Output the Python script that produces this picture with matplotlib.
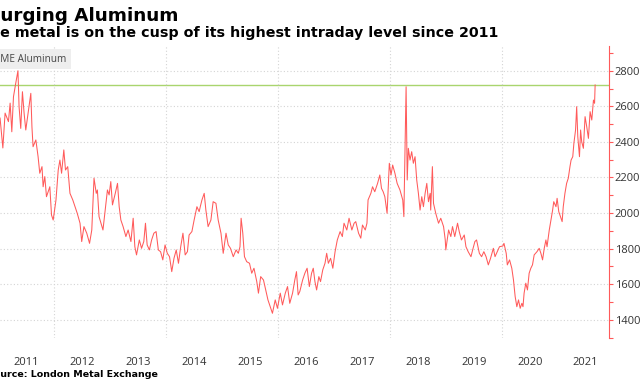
import matplotlib
matplotlib.use("Agg")
import matplotlib.pyplot as plt

# LME aluminium price (decimal year, USD/t)
dates = [
    2011.03, 2011.08, 2011.12, 2011.18, 2011.21, 2011.24, 2011.27, 2011.31, 2011.35, 2011.37,
    2011.40, 2011.43, 2011.46, 2011.49, 2011.54, 2011.58, 2011.60, 2011.62, 2011.67, 2011.71,
    2011.74, 2011.78, 2011.80, 2011.83, 2011.86, 2011.92, 2011.95, 2011.98, 2012.03, 2012.07,
    2012.10, 2012.13, 2012.17, 2012.20, 2012.24, 2012.28, 2012.33, 2012.37, 2012.41, 2012.46,
    2012.49, 2012.53, 2012.58, 2012.63, 2012.67, 2012.71, 2012.75, 2012.77, 2012.80, 2012.87,
    2012.91, 2012.95, 2012.98, 2013.01, 2013.04, 2013.09, 2013.13, 2013.16, 2013.19, 2013.23,
    2013.28, 2013.32, 2013.37, 2013.41, 2013.44, 2013.47, 2013.52, 2013.56, 2013.60, 2013.63,
    2013.66, 2013.70, 2013.74, 2013.78, 2013.82, 2013.86, 2013.90, 2013.94, 2013.98, 2014.02,
    2014.06, 2014.10, 2014.14, 2014.18, 2014.22, 2014.26, 2014.30, 2014.34, 2014.38, 2014.41,
    2014.46, 2014.50, 2014.55, 2014.59, 2014.61, 2014.64, 2014.68, 2014.71, 2014.75, 2014.80,
    2014.84, 2014.89, 2014.93, 2014.98, 2015.02, 2015.07, 2015.11, 2015.15, 2015.20, 2015.25,
    2015.29, 2015.32, 2015.34, 2015.37, 2015.40, 2015.44, 2015.49, 2015.53, 2015.57, 2015.62,
    2015.65, 2015.69, 2015.74, 2015.78, 2015.82, 2015.86, 2015.90, 2015.95, 2015.99, 2016.04,
    2016.08, 2016.13, 2016.17, 2016.21, 2016.26, 2016.30, 2016.33, 2016.36, 2016.39, 2016.44,
    2016.48, 2016.52, 2016.56, 2016.60, 2016.63, 2016.66, 2016.69, 2016.73, 2016.76, 2016.80,
    2016.84, 2016.87, 2016.90, 2016.94, 2016.98, 2017.02, 2017.06, 2017.11, 2017.15, 2017.18,
    2017.23, 2017.27, 2017.32, 2017.36, 2017.39, 2017.44, 2017.48, 2017.51, 2017.56, 2017.59,
    2017.61, 2017.66, 2017.69, 2017.73, 2017.78, 2017.82, 2017.85, 2017.88, 2017.91, 2017.95,
    2017.99, 2018.02, 2018.05, 2018.09, 2018.13, 2018.18, 2018.23, 2018.25, 2018.27, 2018.29,
    2018.30, 2018.31, 2018.33, 2018.36, 2018.39, 2018.42, 2018.45, 2018.48, 2018.51, 2018.54,
    2018.57, 2018.60, 2018.63, 2018.66, 2018.69, 2018.72, 2018.73, 2018.76, 2018.78, 2018.82,
    2018.87, 2018.91, 2018.96, 2018.99, 2019.00, 2019.05, 2019.09, 2019.12, 2019.16, 2019.21,
    2019.24, 2019.28, 2019.33, 2019.36, 2019.40, 2019.45, 2019.48, 2019.52, 2019.55, 2019.60,
    2019.64, 2019.68, 2019.72, 2019.76, 2019.80, 2019.85, 2019.88, 2019.92, 2019.96, 2020.02,
    2020.04, 2020.08, 2020.10, 2020.14, 2020.18, 2020.21, 2020.24, 2020.27, 2020.30, 2020.33,
    2020.36, 2020.38, 2020.40, 2020.43, 2020.46, 2020.49, 2020.52, 2020.55, 2020.58, 2020.63,
    2020.67, 2020.70, 2020.73, 2020.76, 2020.79, 2020.81, 2020.85, 2020.88, 2020.91, 2020.93,
    2020.97, 2020.99, 2021.02, 2021.05, 2021.08, 2021.10, 2021.13, 2021.16, 2021.19, 2021.22,
    2021.24, 2021.27, 2021.29, 2021.32, 2021.34, 2021.36, 2021.39, 2021.41, 2021.43, 2021.46,
    2021.49, 2021.52, 2021.55, 2021.58, 2021.61, 2021.64, 2021.66, 2021.67,
]
prices = [
    2534, 2366, 2562, 2514, 2618, 2457, 2654, 2729, 2800, 2598,
    2476, 2682, 2561, 2467, 2579, 2673, 2485, 2373, 2411, 2317,
    2224, 2261, 2148, 2205, 2092, 2148, 1989, 1961, 2074, 2242,
    2298, 2224, 2355, 2242, 2261, 2111, 2074, 2036, 1999, 1943,
    1840, 1924, 1887, 1830, 1905, 2196, 2111, 2130, 1980, 1905,
    2017, 2130, 2102, 2177, 2046, 2111, 2167, 2036, 1961, 1924,
    1868, 1905, 1840, 1971, 1811, 1765, 1849, 1802, 1840, 1943,
    1821, 1793, 1849, 1887, 1896, 1793, 1783, 1737, 1821, 1774,
    1755, 1671, 1746, 1793, 1718, 1811, 1887, 1765, 1783, 1877,
    1896, 1961, 2036, 2008, 2036, 2074, 2111, 2017, 1924, 1961,
    2064, 2055, 1961, 1887, 1774, 1887, 1821, 1802, 1755, 1793,
    1774, 1811, 1971, 1887, 1755, 1727, 1718, 1662, 1690, 1615,
    1550, 1643, 1624, 1568, 1512, 1474, 1437, 1512, 1465, 1550,
    1484, 1550, 1587, 1493, 1550, 1624, 1671, 1540, 1560, 1624,
    1662, 1690, 1587, 1662, 1690, 1615, 1568, 1643, 1615, 1681,
    1718, 1774, 1718, 1746, 1690, 1783, 1849, 1896, 1868, 1943,
    1905, 1971, 1905, 1943, 1952, 1887, 1859, 1933, 1905, 1943,
    2074, 2111, 2148, 2120, 2167, 2214, 2139, 2120, 2092, 1999,
    2280, 2214, 2270, 2224, 2167, 2130, 2074, 1980, 2336, 2710,
    2429, 2186, 2364, 2298, 2345, 2280, 2317, 2186, 2111, 2017,
    2092, 2036, 2111, 2167, 2064, 2111, 2017, 2261, 2055, 1999,
    1943, 1971, 1924, 1849, 1793, 1905, 1868, 1924, 1868, 1943,
    1896, 1849, 1877, 1811, 1783, 1755, 1793, 1840, 1849, 1774,
    1755, 1783, 1755, 1709, 1746, 1802, 1755, 1783, 1811, 1815,
    1830, 1774, 1709, 1737, 1690, 1624, 1531, 1474, 1512, 1465,
    1493, 1474, 1550, 1606, 1568, 1662, 1690, 1709, 1765, 1783,
    1802, 1774, 1737, 1802, 1849, 1811, 1905, 1961, 2017, 2064,
    2036, 2083, 2008, 1980, 1952, 2036, 2111, 2167, 2196, 2261,
    2298, 2317, 2392, 2467, 2598, 2429, 2317, 2467, 2401, 2364,
    2542, 2485, 2420, 2570, 2523, 2635, 2617, 2720,
]

year_labels = [str(y) for y in range(2011, 2022)]
grid_years = [2012, 2014, 2016, 2018, 2020]
y_ticks = [1400, 1600, 1800, 2000, 2200, 2400, 2600, 2800]

title = "Surging Aluminum"
subtitle = "The metal is on the cusp of its highest intraday level since 2011"
source = "Source: London Metal Exchange"
series_name = "LME Aluminum"

W, H = 640, 382
fig = plt.figure(figsize=(W / 100, H / 100), dpi=100)
ax = fig.add_axes([0, (H - 338) / H, 609 / W, (338 - 46) / H])

red = "#ff5a5a"
ax.plot(dates, prices, color=red, lw=0.75)
ax.axhline(prices[-1], color="#a9d56e", lw=1, zorder=1)

ax.set_xlim(2011.029, 2011.029 + 609 * 0.01788)
ax.set_ylim(1298, 2939)

ax.set_xticks([y + 0.5 for y in range(2011, 2022)])
ax.set_xticklabels(year_labels)
ax.set_xticks(grid_years, minor=True)
ax.set_yticks(y_ticks)
ax.set_yticks(range(1300, 2901, 200), minor=True)

ax.yaxis.tick_right()
ax.tick_params(axis="x", which="both", length=0, pad=13.5, labelsize=8,
               labelcolor="#333333")
for lab in ax.get_xticklabels() + ax.get_yticklabels():
    lab.set_fontfamily("Open Sans")
ax.tick_params(axis="y", which="both", length=3, width=0.8, color=red,
               pad=1, labelsize=8, labelcolor="#333333")

ax.grid(axis="y", which="major", color="#d4d4d4", lw=0.8, ls=(0, (1, 2)))
ax.grid(axis="x", which="minor", color="#d4d4d4", lw=0.8, ls=(0, (1, 2)))

for side in ["left", "top", "bottom"]:
    ax.spines[side].set_visible(False)
ax.spines["right"].set_color(red)
ax.spines["right"].set_linewidth(0.8)

r = fig.canvas.get_renderer()


def cut_text(full, hidden, x_px, y_px, **kw):
    # the reference is cropped on the left, so push the first letters off-canvas
    probe = fig.text(0, 0, hidden, **kw)
    w = probe.get_window_extent(renderer=r).width
    probe.remove()
    return fig.text((x_px - w) / W, (H - y_px) / H, full, **kw)


cut_text(title, "S", 0, 21, fontsize=13.2, fontweight="bold",
         family="DejaVu Sans", color="black")
cut_text(subtitle, "Th", 0, 37.5, fontsize=10.3, fontweight="bold",
         family="DejaVu Sans", color="black")
cut_text(source, "So", 0, 377, fontsize=6.8, fontweight="bold",
         family="DejaVu Sans", color="black")
cut_text(series_name, "L", 0.5, 61.5, fontsize=7.2, family="Open Sans",
         color="#444444",
         bbox=dict(boxstyle="square,pad=0.45", fc="#eeeeee", ec="none"))

fig.savefig("out.png", dpi=100)
